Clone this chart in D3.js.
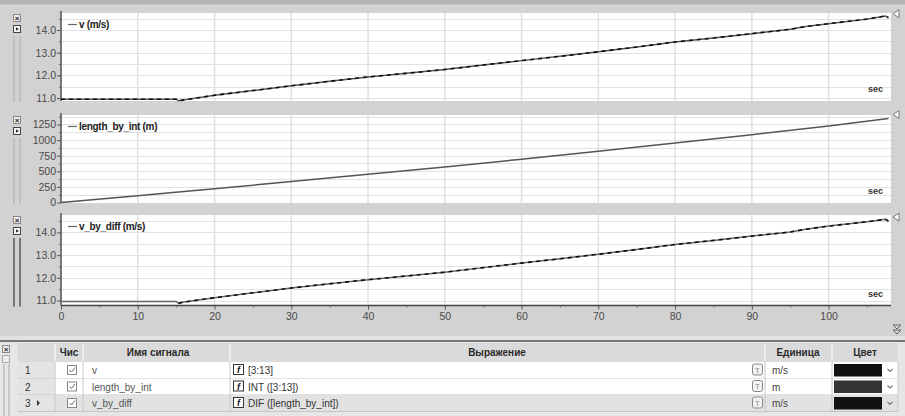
<!DOCTYPE html>
<html><head><meta charset="utf-8">
<script src="https://cdn.jsdelivr.net/npm/d3@7/dist/d3.min.js"></script>
<style>
html,body{margin:0;padding:0;background:#d2d2d2;}
svg{display:block;font-family:Arial,"Liberation Sans",sans-serif;}
</style></head>
<body>
<svg id="c" width="905" height="416"></svg>
<script>
// ---------- DATA ----------
const xTicks = [0,10,20,30,40,50,60,70,80,90,100];
const timeV = [0,5,10,15,15.3,16,20,25,30,35,40,45,50,55,60,65,70,75,80,85,90,95,97,100,105,107.4,107.8];
const vValues = [10.95,10.95,10.95,10.95,10.88,10.92,11.12,11.33,11.54,11.74,11.93,12.09,12.26,12.46,12.65,12.84,13.04,13.25,13.47,13.65,13.84,14.03,14.15,14.28,14.48,14.62,14.54];
const timeLen = [0,10,15.3,20,30,40,50,60,70,80,90,100,107.8];
const lenValues = [0,110,168,220,335,452,570,693,820,952,1087,1227,1345];
const timeVd = [0,5,10,15,15.3,16,20,25,30,35,40,45,50,55,60,65,70,75,80,85,90,95,97,100,105,107.4,107.8];
const vdValues = [10.96,10.96,10.96,10.96,10.88,10.93,11.12,11.34,11.55,11.74,11.92,12.08,12.25,12.45,12.65,12.84,13.04,13.25,13.47,13.65,13.84,14.02,14.14,14.28,14.47,14.58,14.50];
const vTicks = [11,12,13,14];
const lenTicks = [0,250,500,750,1000,1250];
const panelLabels = ["v (m/s)","length_by_int (m)","v_by_diff (m/s)"];
const rowNums = ["1","2","3"];
const signalNames = ["v","length_by_int","v_by_diff"];
const expressions = ["[3:13]","INT ([3:13])","DIF ([length_by_int])"];
const units = ["m/s","m","m/s"];
const swatches = ["#111111","#333333","#111111"];
const headers = ["Чис","Имя сигнала","Выражение","Единица","Цвет"];

// ---------- LAYOUT ----------
const svg = d3.select("#c");
const x = d3.scaleLinear([0,108],[61,890]);

svg.append("rect").attr("x",0).attr("y",0).attr("width",905).attr("height",4).attr("fill","#b4b4b4");
svg.append("rect").attr("x",0).attr("y",4).attr("width",905).attr("height",1).attr("fill","#c4c4c4");

const panels = [
  {top:13,bottom:101,dom:[10.87,14.75],t:timeV,v:vValues,ticks:vTicks,minor:d3.range(10.5+0.5,14.75,0.5),grid:d3.range(11,14.75,0.5),fmt:d3.format(".1f"),dashFrom:0,stroke:"#555"},
  {top:115,bottom:203,dom:[-8,1402],t:timeLen,v:lenValues,ticks:lenTicks,minor:d3.range(125,1402,250),grid:d3.range(125,1402,125),fmt:d3.format("d"),dashFrom:null,stroke:"#555"},
  {top:215,bottom:305.5,dom:[10.78,14.77],t:timeVd,v:vdValues,ticks:vTicks,minor:d3.range(11.5,14.77,1),grid:d3.range(11,14.77,0.5),fmt:d3.format(".1f"),dashFrom:15.3,stroke:"#666"}
];

panels.forEach((p,i)=>{
  const y = d3.scaleLinear(p.dom,[p.bottom,p.top]);
  const g = svg.append("g");
  // plot area
  g.append("rect").attr("x",62).attr("y",p.top).attr("width",829).attr("height",p.bottom-p.top).attr("fill","#fff");
  // grid
  g.append("g").selectAll("line").data(p.grid).join("line")
    .attr("x1",62).attr("x2",891).attr("y1",d=>Math.round(y(d))+0.5).attr("y2",d=>Math.round(y(d))+0.5)
    .attr("stroke","#e2e2e2").attr("stroke-width",1.2);
  g.append("g").selectAll("line").data(xTicks.slice(1)).join("line")
    .attr("x1",d=>x(d)).attr("x2",d=>x(d)).attr("y1",p.top).attr("y2",p.bottom)
    .attr("stroke","#e0e0e0").attr("stroke-width",1.5);
  // y axis
  const ax = g.append("g").attr("transform","translate(61,0)")
    .call(d3.axisLeft(y).tickValues(p.ticks).tickSize(4).tickPadding(1).tickFormat(p.fmt));
  ax.select(".domain").attr("d",`M0,${p.top-2}V${p.bottom}`).attr("stroke","#444").attr("stroke-width",1.3);
  ax.selectAll(".tick line").attr("stroke","#555");
  ax.selectAll(".tick text").attr("fill","#4a4a4a").style("font-size","10.5px").style("font-family","Arial,'Liberation Sans',sans-serif");
  const mx = g.append("g").attr("transform","translate(61,0)")
    .call(d3.axisLeft(y).tickValues(p.minor).tickSize(2).tickFormat(""));
  mx.select(".domain").remove();
  mx.selectAll(".tick line").attr("stroke","#666");
  // line
  const pts = p.t.map((t,k)=>[t,p.v[k]]);
  const line = d3.line().x(d=>x(d[0])).y(d=>y(d[1]));
  g.append("path").attr("d",line(pts)).attr("fill","none").attr("stroke",p.stroke).attr("stroke-width",1.5);
  if(p.dashFrom!==null){
    const dp = pts.filter(d=>d[0]>=p.dashFrom);
    g.append("path").attr("d",line(dp)).attr("fill","none").attr("stroke","#111").attr("stroke-width",1.6).attr("stroke-dasharray","4,4");
  }
  // end marker
  const ye = y(p.v[p.v.length-1]) - 4;
  g.append("path").attr("d",`M899,${ye-4}L893,${ye}L899,${ye+4}Z`).attr("fill","#fff").attr("stroke","#777").attr("stroke-width",1);
  // legend
  g.append("line").attr("x1",68).attr("x2",77).attr("y1",p.top+11.5).attr("y2",p.top+11.5).attr("stroke","#666").attr("stroke-width",1.2);
  g.append("text").attr("x",79).attr("y",p.top+15).text(panelLabels[i])
    .attr("fill","#222").style("font-size","10px").style("font-weight","bold").style("letter-spacing","-0.3px");
  // sec
  g.append("text").attr("x",883).attr("y",p.bottom-9).attr("text-anchor","end").text("sec")
    .attr("fill","#333").style("font-size","9px").style("font-weight","bold");
  // left controls
  g.append("rect").attr("x",13.5).attr("y",p.top+1.5).attr("width",7).attr("height",7).attr("fill","#eee").attr("stroke","#888");
  g.append("text").attr("x",17).attr("y",p.top+8).attr("text-anchor","middle").text("×").attr("fill","#222").style("font-size","8px").style("font-weight","bold");
  g.append("rect").attr("x",13.5).attr("y",p.top+12.5).attr("width",7).attr("height",7).attr("fill","#f4f4f4").attr("stroke","#444");
  g.append("path").attr("d",`M16,${p.top+14.5}L19,${p.top+16}L16,${p.top+17.5}Z`).attr("fill","#222");
  const sc = i===2 ? "#555" : "#aaa";
  [14,20].forEach(xx=>g.append("line").attr("x1",xx).attr("x2",xx).attr("y1",p.top+23).attr("y2",p.bottom+1).attr("stroke",sc).attr("stroke-width",i===2?1.5:1));
});

// x axis (bottom panel)
const xa = svg.append("g").attr("transform","translate(0,305.5)")
  .call(d3.axisBottom(x).tickValues(xTicks).tickSize(4).tickPadding(3));
xa.select(".domain").attr("d","M61,0H891").attr("stroke","#444").attr("stroke-width",1.3);
xa.selectAll(".tick line").attr("stroke","#555");
xa.selectAll(".tick text").attr("fill","#4a4a4a").style("font-size","10.5px").style("font-family","Arial,'Liberation Sans',sans-serif");
const xm = svg.append("g").attr("transform","translate(0,305.5)")
  .call(d3.axisBottom(x).tickValues(d3.range(5,108,10)).tickSize(2).tickFormat(""));
xm.select(".domain").remove();
xm.selectAll(".tick line").attr("stroke","#666");
// double arrow
svg.append("path").attr("d","M893,325L901,325L897,329Z M893,330L901,330L897,334Z").attr("fill","none").attr("stroke","#666");

// ---------- TABLE ----------
svg.append("rect").attr("x",0).attr("y",336).attr("width",905).attr("height",4).attr("fill","#e2e2e2");
svg.append("rect").attr("x",0).attr("y",340).attr("width",905).attr("height",2).attr("fill","#777");
svg.append("rect").attr("x",0).attr("y",342).attr("width",905).attr("height",74).attr("fill","#e6e6e6");
const colX = [18,55,83,230,765,832,898];
const headY = [343,362];
const rowY = [362,378.5,395,411.5];
// header
svg.append("rect").attr("x",18).attr("y",343).attr("width",880).attr("height",19).attr("fill","#dadada");
svg.selectAll(".hsep").data(colX.slice(1,6)).join("line").attr("class","hsep")
  .attr("x1",d=>d).attr("x2",d=>d).attr("y1",344).attr("y2",361).attr("stroke","#f2f2f2").attr("stroke-width",1.5);
const hCenters = [69,158,497,798,865];
svg.selectAll(".ht").data(headers).join("text").attr("class","ht")
  .attr("x",(d,i)=>hCenters[i]).attr("y",356).attr("text-anchor","middle").text(d=>d)
  .attr("fill","#2a2a2a").style("font-size","10px").style("font-weight","bold");
// rows
const rows = svg.selectAll(".row").data(rowNums).join("g").attr("class","row")
  .attr("transform",(d,i)=>`translate(0,${rowY[i]})`);
rows.append("rect").attr("x",18).attr("y",0).attr("width",37).attr("height",16.5).attr("fill","#e4e4e4");
rows.append("rect").attr("x",55).attr("y",0).attr("width",843).attr("height",16.5).attr("fill",(d,i)=>i===2?"#e2e2e2":"#fff");
rows.append("line").attr("x1",18).attr("x2",898).attr("y1",16.5).attr("y2",16.5).attr("stroke","#c4c4c4");
rows.each(function(){const r=d3.select(this); colX.slice(1).forEach(cx=>r.append("line").attr("x1",cx).attr("x2",cx).attr("y1",0).attr("y2",16.5).attr("stroke","#c8c8c8"));});
rows.append("text").attr("x",25).attr("y",12).text(d=>d).attr("fill","#333").style("font-size","10px");
rows.filter((d,i)=>i===2).append("path").attr("d","M37,5L40,8L37,11Z").attr("fill","#333");
rows.append("rect").attr("x",67.5).attr("y",3.5).attr("width",9).attr("height",9).attr("fill","#fff").attr("stroke","#888");
rows.append("path").attr("d","M69.5,8L71.5,10L75,5.5").attr("fill","none").attr("stroke","#666").attr("stroke-width",1);
rows.append("text").attr("x",92).attr("y",12).text((d,i)=>signalNames[i]).attr("fill","#555").style("font-size","10px");
rows.append("rect").attr("x",233.5).attr("y",2.5).attr("width",10).attr("height",10).attr("fill","#fff").attr("stroke","#333");
rows.append("text").attr("x",238.5).attr("y",11).attr("text-anchor","middle").text("f").attr("fill","#111").style("font-size","9px").style("font-weight","bold").style("font-style","italic");
rows.append("text").attr("x",248).attr("y",12).text((d,i)=>expressions[i]).attr("fill","#333").style("font-size","10px");
rows.append("rect").attr("x",752.5).attr("y",2).attr("width",10).attr("height",11).attr("rx",2).attr("fill","#f2f2f2").attr("stroke","#888");
rows.append("text").attr("x",757.5).attr("y",10.5).attr("text-anchor","middle").text("T").attr("fill","#888").style("font-size","7px");
rows.append("text").attr("x",772).attr("y",12).text((d,i)=>units[i]).attr("fill","#444").style("font-size","10px");
rows.append("rect").attr("x",834).attr("y",2).attr("width",48).attr("height",12.5).attr("fill",(d,i)=>swatches[i]);
rows.append("path").attr("d","M887.5,7L890,9.5L892.5,7").attr("fill","none").attr("stroke","#777").attr("stroke-width",1.2);
// left controls of table
svg.append("rect").attr("x",2.5).attr("y",345.5).attr("width",7).attr("height",7).attr("fill","#eee").attr("stroke","#888");
svg.append("text").attr("x",6).attr("y",352).attr("text-anchor","middle").text("×").attr("fill","#222").style("font-size","8px").style("font-weight","bold");
svg.append("rect").attr("x",2.5).attr("y",355.5).attr("width",7).attr("height",7).attr("fill","#eee").attr("stroke","#aaa");
[4,9].forEach(xx=>svg.append("line").attr("x1",xx).attr("x2",xx).attr("y1",364).attr("y2",416).attr("stroke","#aaa"));
</script>
</body></html>
